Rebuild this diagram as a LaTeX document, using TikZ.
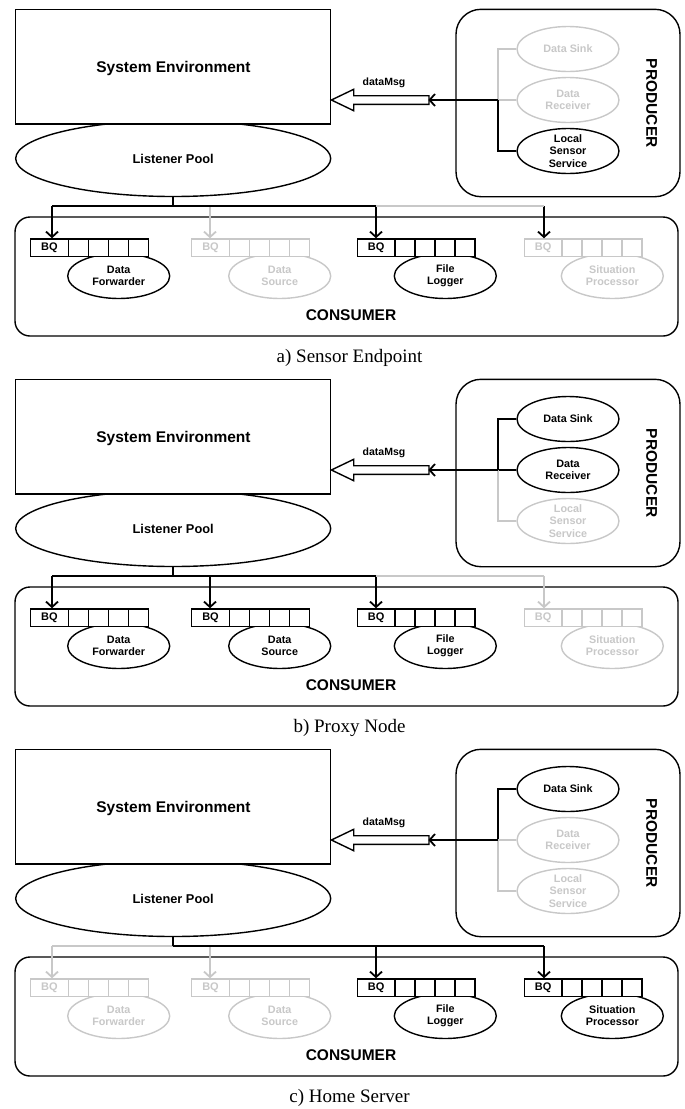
\documentclass[tikz,border=0pt]{standalone}
\usepackage{fontspec}
\setmainfont{Liberation Sans}
\newfontfamily\capfont{Liberation Serif}
\usetikzlibrary{arrows.meta,shapes.geometric}
\definecolor{gr}{RGB}{200,200,200}
\tikzset{
  ln/.style={line width=1.8pt},
  ln1/.style={line width=1.4pt},
  conn/.style={ln, -{Straight Barb[length=5.5pt,width=12pt]}},
  box/.style={draw, ln1, inner sep=0pt},
  ell/.style={ellipse, draw, ln1, fill=white, inner sep=0pt, minimum width=102pt, minimum height=45pt},
  etxt/.style={align=center, font=\fontsize{10.8}{12.2}\selectfont\bfseries, inner sep=0pt},
  cell/.style={draw, ln1, fill=white, minimum width=20pt, minimum height=17.7pt, inner sep=0pt},
  bq/.style={cell, minimum width=37.6pt, font=\fontsize{11}{12}\selectfont\bfseries},
  big/.style={font=\fontsize{15.5}{18}\selectfont\bfseries},
}
\begin{document}
\begin{tikzpicture}[x=1pt,y=-1pt]
\useasboundingbox (0,0) rectangle (685,1109);
\foreach \p/\oy/\captxt/\csk/\crv/\cls/\qA/\qB/\qC/\qD/\arA/\arB/\arC/\arD/\hlc/\hrc/\hsp in {
  a/0/{a) Sensor Endpoint}/gr/gr/black/black/gr/black/gr/black/gr/black/black/black/gr/3,
  b/370/{b) Proxy Node}/black/black/gr/black/black/black/gr/black/black/black/gr/black/gr/3,
  c/740/{c) Home Server}/black/gr/gr/gr/gr/black/black/gr/gr/black/black/gr/black/p}{
\begin{scope}[shift={(0,\oy)}]
  % system environment and listener pool
  \node[ellipse, draw, ln1, fill=white, minimum width=315pt, minimum height=76pt, inner sep=0pt,
        font=\fontsize{12.8}{14}\selectfont\bfseries] (\p-pool) at (173.2,158.5) {Listener Pool};
  \node[box, fill=white, minimum width=315pt, minimum height=114.7pt] (\p-env) at (173.2,66.65) {};
  \node[big] (\p-envtxt) at (173.5,68.3) {System Environment};
  % producer
  \node[box, rounded corners=25pt, minimum width=224pt, minimum height=187.4pt] (\p-prod) at (568,103) {};
  \node[big, rotate=-90] (\p-prodtxt) at (651.7,103.3) {PRODUCER};
  \node[ell, draw=\csk] (\p-sink) at (568,49) {};
  \node[etxt, text=\csk] (\p-sinktxt) at (\p-sink) {Data Sink};
  \node[ell, draw=\crv] (\p-recv) at (568,100) {};
  \node[etxt, text=\crv] (\p-recvtxt) at (\p-recv) {Data\\Receiver};
  \node[ell, draw=\cls] (\p-lss) at (568,151) {};
  \node[etxt, text=\cls] (\p-lsstxt) at (\p-lss) {Local\\Sensor\\Service};
  \coordinate (\p-jr) at (498,100);
  \draw[ln, draw=\csk] (\p-sink.west) -| (\p-jr);
  \draw[ln, draw=\crv] (\p-recv.west) -- (\p-jr);
  \draw[ln, draw=\cls] (\p-lss.west) -| (\p-jr);
  % dataMsg hollow arrow
  \coordinate (\p-tip) at (\p-env.east |- \p-jr);
  \draw[ln1, fill=white] (\p-tip) -- ++(22.3,-10.7) -- ++(0,6.4) -- ++(75.3,0) -- ++(0,8.6)
        -- ++(-75.3,0) -- ++(0,6.4) -- cycle;
  \coordinate (\p-tail) at (428.3,100);
  \node[font=\fontsize{10.5}{12}\selectfont\bfseries] (\p-msg) at (384,83) {dataMsg};
  \draw[conn] (\p-jr) -- (\p-tail);
  % consumer
  \node[box, rounded corners=15pt, minimum width=663pt, minimum height=119pt] (\p-cons) at (346.5,276.5) {};
  \node[big] (\p-constxt) at (351,315) {CONSUMER};
  \foreach \k/\qx/\qcol/\qtxt in {1/30.7/\qA/{Data\\Forwarder}, 2/191.7/\qB/{Data\\Source},
                                  3/357.3/\qC/{File\\Logger}, 4/524.3/\qD/{Situation\\Processor}}{
    \node[ell, draw=\qcol] (\p-e\k) at (\qx+88,276) {};
    \node[etxt, text=\qcol] (\p-et\k) at (\p-e\k) {\qtxt};
    \node[bq, draw=\qcol, text=\qcol] (\p-q\k) at (\qx+18.8,247.85) {BQ};
    \foreach \m in {1,...,4}{
      \node[cell, draw=\qcol] (\p-q\k-\m) at (\qx+27.6+20*\m,247.85) {};
    }
  }
  \coordinate (\p-j1) at (52,206);
  \coordinate (\p-j2) at (210,206);
  \coordinate (\p-j3) at (376,206);
  \coordinate (\p-j4) at (544,206);
  \coordinate (\p-jp) at (\p-pool.south |- \p-j1);
  \draw[conn, draw=\arA] (\p-j1) -- (\p-j1 |- \p-q1.north);
  \draw[conn, draw=\arB] (\p-j2) -- (\p-j2 |- \p-q2.north);
  \draw[conn, draw=\arC] (\p-j3) -- (\p-j3 |- \p-q3.north);
  \draw[conn, draw=\arD] (\p-j4) -- (\p-j4 |- \p-q4.north);
  \draw[ln, draw=\hrc] (\p-j\hsp) -- (\p-j4);
  \draw[ln, draw=\hlc] (\p-j1) -- (\p-j\hsp);
  \draw[ln] (\p-pool.south) -- (\p-jp);
  % caption
  \node[font=\capfont\fontsize{19}{21}\selectfont, anchor=base] (\p-cap) at (349.5,362) {\captxt};
\end{scope}
}
\end{tikzpicture}
\end{document}
